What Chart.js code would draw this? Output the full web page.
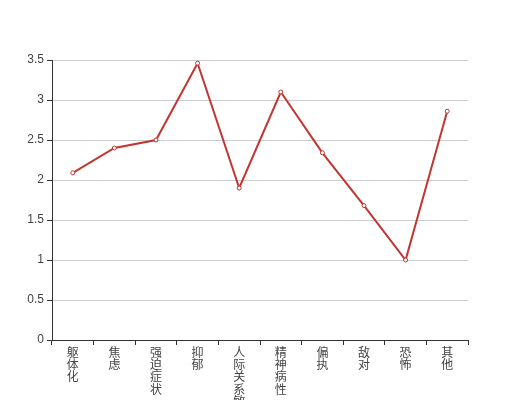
<!DOCTYPE html>
<html>
<head>
<meta charset="utf-8">
<script src="https://cdn.jsdelivr.net/npm/chart.js@4/dist/chart.umd.min.js"></script>
<style>
    html, body { margin: 0; padding: 0; background: #fff; }
    #wrap { width: 520px; height: 400px; }
</style>
</head>
<body>
<div id="wrap"><canvas id="scl-chart" width="520" height="400"></canvas></div>
<script>
const CATEGORIES = ["躯体化", "焦虑", "强迫症状", "抑郁", "人际关系敏感", "精神病性", "偏执", "敌对", "恐怖", "其他"];
const SCORES = [2.09, 2.40, 2.50, 3.46, 1.90, 3.10, 2.34, 1.68, 1.00, 2.86];
const Y_MIN = 0;
const Y_MAX = 3.5;
const Y_STEP = 0.5;

const LINE_COLOR = "#c23531";
const AXIS_COLOR = "#333";
const LABEL_COLOR = "#444";

// vertical labels: one char per line
const labels = CATEGORIES.map(c => c.split(""));

const ctx = document.getElementById("scl-chart").getContext("2d");

new Chart(ctx, {
    type: "line",
    data: {
        labels,
        datasets: [{
            data: SCORES,
            borderColor: LINE_COLOR,
            backgroundColor: "#fff",
            borderWidth: 2,
            pointRadius: 2,
            pointBorderWidth: 1,
            pointBorderColor: LINE_COLOR,
            pointBackgroundColor: "#fff",
            tension: 0,
            fill: false,
        }]
    },
    options: {
        responsive: false,
        animation: false,
        layout: { padding: { top: 60, right: 52, left: 0, bottom: 0 } },
        plugins: {
            legend: { display: false },
            tooltip: { enabled: false }
        },
        scales: {
            x: {
                offset: true,
                afterFit: s => { s.height = 60; },
                border: { color: AXIS_COLOR, width: 1 },
                grid: {
                    offset: true,
                    drawOnChartArea: false,
                    drawTicks: true,
                    tickLength: 5,
                    color: AXIS_COLOR,
                },
                ticks: {
                    color: LABEL_COLOR,
                    maxRotation: 0,
                    autoSkip: false,
                    padding: 1,
                    font: { family: "'Noto Sans CJK SC', sans-serif", size: 12, lineHeight: 1.03 }
                }
            },
            y: {
                min: Y_MIN,
                max: Y_MAX,
                afterFit: s => { s.width = 52; },
                border: { color: AXIS_COLOR, width: 1 },
                grid: {
                    color: "#ccc",
                    tickColor: AXIS_COLOR,
                    tickLength: 5,
                },
                ticks: {
                    stepSize: Y_STEP,
                    color: LABEL_COLOR,
                    padding: 3,
                    font: { family: "'Liberation Sans', sans-serif", size: 12 },
                    callback: v => String(v)
                }
            }
        }
    }
});
</script>
</body>
</html>
